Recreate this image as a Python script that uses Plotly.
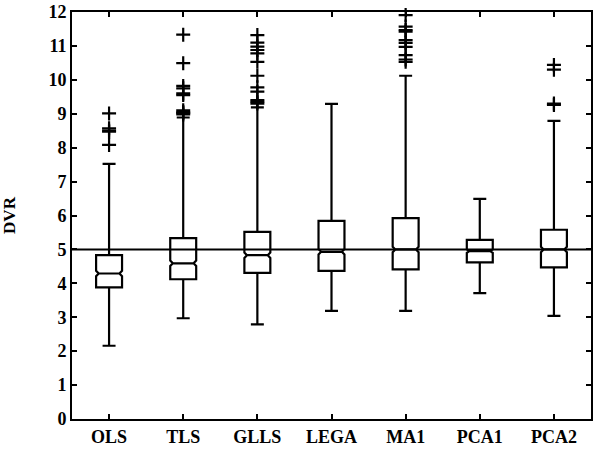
import plotly.graph_objects as go

categories = ["OLS", "TLS", "GLLS", "LEGA", "MA1", "PCA1", "PCA2"]
q1 = [3.88, 4.12, 4.31, 4.37, 4.41, 4.62, 4.47]
median = [4.29, 4.59, 4.83, 4.93, 5.00, 4.95, 5.00]
q3 = [4.83, 5.33, 5.52, 5.84, 5.92, 5.28, 5.58]
lowerfence = [2.16, 2.97, 2.79, 3.19, 3.19, 3.71, 3.04]
upperfence = [7.52, 8.89, 9.19, 9.29, 10.12, 6.49, 8.79]
notchspan = [0.08, 0.08, 0.08, 0.08, 0.08, 0.05, 0.08]

outliers = {
    "OLS": [9.01, 8.57, 8.50, 8.47, 8.08],
    "TLS": [11.33, 10.49, 9.82, 9.75, 9.60, 9.55, 9.10, 9.05, 9.02, 8.98],
    "GLLS": [11.32, 11.10, 10.98, 10.88, 10.78, 10.53, 10.12, 9.78, 9.65, 9.40, 9.35, 9.30],
    "LEGA": [],
    "MA1": [11.91, 11.57, 11.47, 11.42, 11.17, 11.09, 10.97, 10.73, 10.60, 10.53],
    "PCA1": [],
    "PCA2": [10.44, 10.30, 9.30, 9.26],
}
reference_level = 5
y_ticks = list(range(0, 13))

out_x = [c for c in categories for _ in outliers[c]]
out_y = [v for c in categories for v in outliers[c]]

font_family = "Liberation Serif"

fig = go.Figure()
fig.add_trace(go.Box(
    x=categories, q1=q1, median=median, q3=q3,
    lowerfence=lowerfence, upperfence=upperfence,
    notched=True, notchspan=notchspan, notchwidth=0.1,
    boxpoints=False, whiskerwidth=0.5,
    line=dict(color="black", width=2.2),
    fillcolor="rgba(0,0,0,0)",
    showlegend=False, hoverinfo="skip",
))
fig.add_trace(go.Scatter(
    x=out_x, y=out_y, mode="markers",
    marker=dict(symbol="cross-thin", size=10, line=dict(color="black", width=2.2)),
    showlegend=False, hoverinfo="skip", cliponaxis=False,
))
fig.add_shape(type="line", xref="paper", x0=0, x1=1, yref="y",
              y0=reference_level, y1=reference_level,
              line=dict(color="black", width=2), layer="above")

fig.update_layout(
    width=600, height=457,
    margin=dict(l=72, r=9, t=12, b=38),
    plot_bgcolor="white", paper_bgcolor="white",
    boxgap=0.5,
    font=dict(family=font_family, size=18, color="black"),
    xaxis=dict(
        type="category", range=[-0.5, 6.5], automargin=False,
        showline=True, linecolor="black", linewidth=2, mirror="ticks",
        ticks="inside", ticklen=5, tickwidth=2, tickcolor="black",
        showgrid=False, zeroline=False,
        tickfont=dict(family=font_family, size=18, color="black", weight="bold"),
    ),
    yaxis=dict(
        range=[0, 12], tickvals=y_ticks, automargin=False,
        showline=True, linecolor="black", linewidth=2, mirror="ticks",
        ticks="inside", ticklen=5, tickwidth=2, tickcolor="black",
        showgrid=False, zeroline=False,
        tickfont=dict(family=font_family, size=18, color="black", weight="bold"),
        title=dict(text="<b>DVR</b>", font=dict(family=font_family, size=17, color="black"),
                   standoff=28),
    ),
)

fig.write_html("out.html", config={"displayModeBar": False},
               post_script="document.body.style.margin='0';document.body.style.overflow='hidden';")
